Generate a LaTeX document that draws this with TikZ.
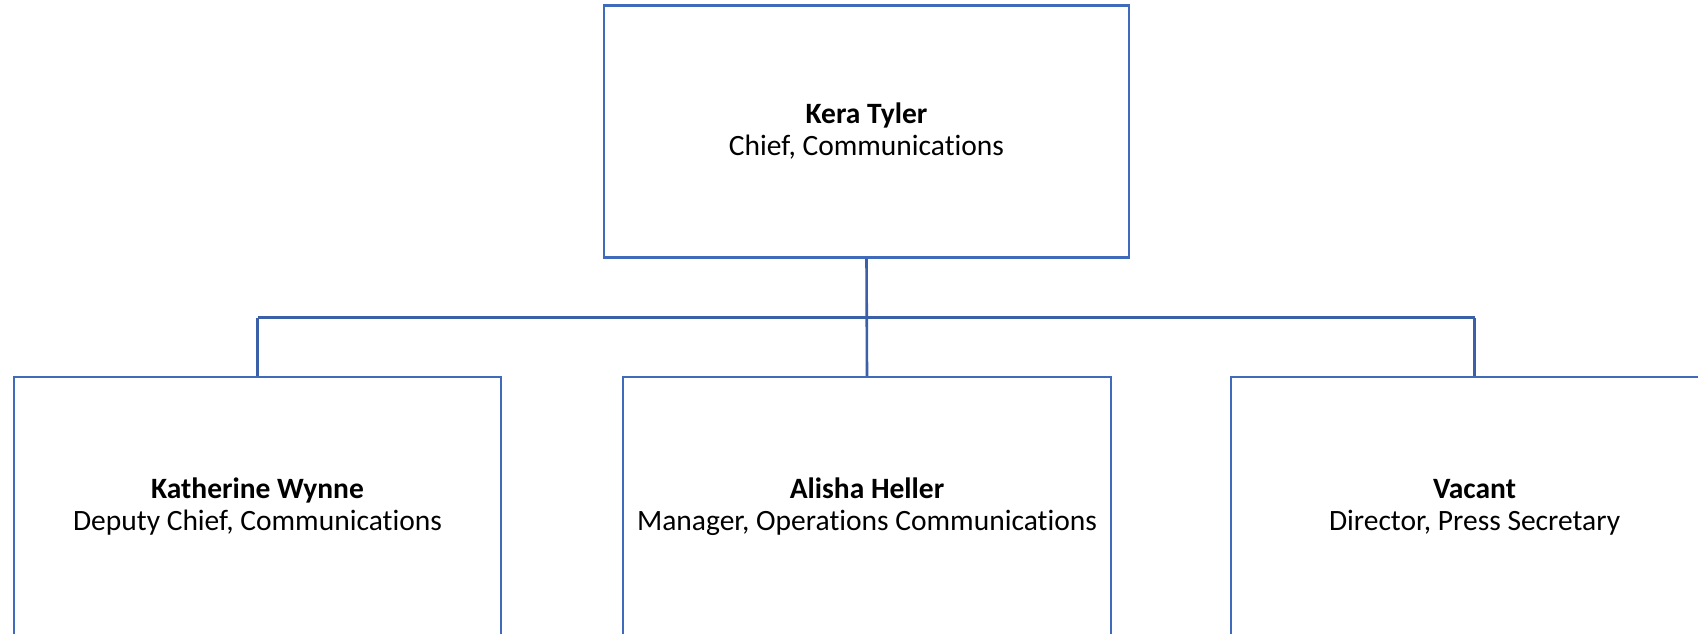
\documentclass[tikz,border=0pt]{standalone}
\usepackage{fontspec}
\setmainfont[Ligatures={NoCommon}]{Carlito}
\definecolor{boxline}{RGB}{64,106,186}
\definecolor{connline}{RGB}{60,96,168}
\begin{document}
\begin{tikzpicture}[x=1pt,y=1pt,
  orgbox/.style={draw=boxline, line width=2.4pt, fill=white, rectangle, inner sep=0pt,
    align=center, font=\fontsize{29.5}{32}\selectfont, text=black},
  conn/.style={draw=connline, line width=2.6pt}]
\useasboundingbox (0,0) rectangle (1698,-634);
\clip (0,0) rectangle (1698,-634);
\fill[white] (0,0) rectangle (1698,-634);
\coordinate (busy) at (0,-317.5);
\node[orgbox, minimum width=525pt, minimum height=252pt] (top) at (866.5,-131.5)
  {\textbf{Kera Tyler}\\Chief, Communications};
\node[orgbox, minimum width=487pt, minimum height=260pt] (left) at (257.5,-507)
  {\textbf{Katherine Wynne}\\Deputy Chief, Communications};
\node[orgbox, minimum width=488pt, minimum height=260pt] (mid) at (867,-507)
  {\textbf{Alisha Heller}\\Manager, Operations Communications};
\node[orgbox, minimum width=487pt, minimum height=260pt] (right) at (1474.5,-507)
  {\textbf{Vacant}\\Director, Press Secretary};
\coordinate (busL) at (left.north |- busy);
\coordinate (busR) at (right.north |- busy);
\draw[conn] (busL) -- (busR);
\draw[conn] (top.south) -- (mid.north);
\draw[conn] (left.north) -- (busL);
\draw[conn] (right.north) -- (busR);
\end{tikzpicture}
\end{document}
